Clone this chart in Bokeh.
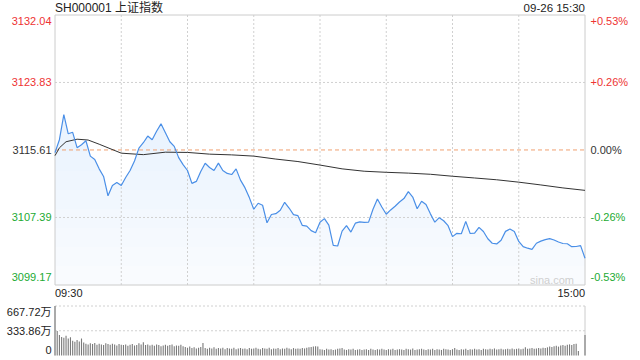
import numpy as np
from bokeh.plotting import figure
from bokeh.models import Range1d
from bokeh.core.properties import value
from bokeh.embed import file_html
from bokeh.resources import INLINE

# ---------------- data ----------------
title_text = "SH000001 上证指数"
stamp_text = "09-26 15:30"
prev_close = 3115.61
price_ticks = [3132.04, 3123.83, 3115.61, 3107.39, 3099.17]
price_tick_labels = ["3132.04", "3123.83", "3115.61", "3107.39", "3099.17"]
pct_tick_labels = ["+0.53%", "+0.26%", "0.00%", "-0.26%", "-0.53%"]
vol_ticks = [667.72, 333.86, 0]
vol_tick_labels = ["667.72万", "333.86万", "0"]
time_labels = ["09:30", "15:00"]
grid_minutes = [30, 60, 90, 120, 150, 180, 210]

# price every 2 minutes (minute index 0..240)
price_minutes = list(range(0, 241, 2))
price = [
    3115.28, 3116.86, 3119.90, 3117.58, 3117.76, 3115.89, 3116.25, 3116.73, 3114.86, 3114.44,
    3113.31, 3112.38, 3110.03, 3111.29, 3111.66, 3111.29, 3112.26, 3113.11, 3114.26, 3115.83,
    3116.49, 3117.30, 3116.86, 3117.88, 3118.79, 3117.70, 3116.61, 3116.05, 3114.68, 3113.83,
    3113.11, 3111.54, 3111.78, 3112.99, 3113.99, 3113.47, 3113.11, 3114.01, 3113.11, 3112.75,
    3112.62, 3113.31, 3111.94, 3111.02, 3109.81, 3108.39, 3109.12, 3108.88, 3106.74, 3107.75,
    3107.85, 3108.27, 3109.24, 3108.54, 3107.73, 3107.61, 3106.42, 3106.34, 3105.79, 3105.53,
    3106.82, 3107.25, 3106.46, 3104.00, 3103.92, 3105.73, 3106.40, 3105.61, 3106.70, 3106.86,
    3106.79, 3106.82, 3108.39, 3109.64, 3108.66, 3107.79, 3108.31, 3108.76, 3109.28, 3109.69,
    3110.53, 3109.88, 3108.45, 3109.36, 3108.96, 3107.83, 3106.82, 3107.37, 3106.99, 3106.39,
    3105.06, 3105.46, 3105.41, 3106.92, 3105.44, 3105.49, 3106.18, 3105.69, 3104.80, 3104.25,
    3104.17, 3104.62, 3105.70, 3105.98, 3105.69, 3104.48, 3103.84, 3103.65, 3103.51, 3104.25,
    3104.51, 3104.69, 3104.82, 3104.65, 3104.40, 3104.22, 3104.19, 3103.84, 3103.86, 3103.96,
    3102.43,
]

# average price line
avg_minutes = [0, 2, 5, 10, 15, 20, 30, 40, 50, 60, 70, 80, 90, 100, 110, 120,
               130, 140, 150, 160, 170, 180, 190, 200, 210, 220, 230, 240]
avg_price = [3114.92, 3115.87, 3116.61, 3116.92, 3116.82, 3116.31, 3115.22, 3115.04,
             3115.34, 3115.31, 3115.10, 3115.01, 3114.86, 3114.50, 3114.20, 3113.77,
             3113.31, 3113.02, 3112.89, 3112.79, 3112.65, 3112.41, 3112.20, 3111.98,
             3111.69, 3111.35, 3110.99, 3110.69]

# volume per minute (万)
vol_minutes = list(range(241))
volume = [
    667.72, 330, 275, 250, 240, 265, 230, 245, 200, 185,
    210, 190, 230, 175, 160, 150, 165, 155, 170, 145,
    160, 150, 140, 165, 155, 145, 160, 150, 135, 155,
    145, 140, 150, 130, 145, 155, 135, 140, 165, 150,
    180, 140, 150, 135, 145, 130, 150, 140, 125, 135,
    145, 130, 140, 150, 125, 135, 130, 145, 125, 115,
    105, 120, 100, 110, 95, 105, 115, 170, 100, 90,
    105, 95, 110, 90, 100, 95, 105, 85, 100, 95,
    90, 105, 85, 95, 100, 90, 95, 85, 100, 90,
    95, 105, 90, 85, 100, 95, 90, 105, 85, 95,
    90, 100, 85, 95, 90, 105, 95, 85, 100, 90,
    95, 90, 100, 95, 105, 110, 115, 120, 125, 120,
    85, 80, 75, 90, 80, 85, 75, 80, 90, 95,
    100, 80, 75, 85, 80, 90, 75, 80, 85, 75,
    80, 85, 75, 90, 80, 75, 85, 80, 90, 80,
    75, 85, 80, 90, 75, 80, 85, 80, 75, 90,
    85, 80, 95, 75, 80, 85, 90, 80, 75, 85,
    80, 90, 75, 85, 80, 75, 90, 85, 80, 75,
    85, 100, 80, 75, 85, 80, 90, 75, 85, 80,
    90, 80, 85, 75, 90, 85, 80, 90, 85, 95,
    80, 85, 90, 80, 85, 90, 85, 95, 85, 90,
    95, 85, 90, 110, 90, 95, 100, 90, 95, 100,
    95, 105, 100, 110, 120, 115, 125, 130, 120, 135,
    140, 130, 145, 150, 140, 155, 160, 60, 0, 0,
    275,
]

# ---------------- layout (figure pixels) ----------------
W, H = 632, 358
PLOT_L, PLOT_R = 54.5, 584.5
PRICE_T, PRICE_B = 14.5, 284.5
VOL_T, VOL_B = 305.5, 355.0
N_MIN = 240

PRICE_HI, PRICE_LO = price_ticks[0], price_ticks[-1]
VOL_HI = vol_ticks[0]

mpx = N_MIN / (PLOT_R - PLOT_L)
x_range = Range1d(0 - PLOT_L * mpx, N_MIN + (W - PLOT_R) * mpx)
ppx = (PRICE_HI - PRICE_LO) / (PRICE_B - PRICE_T)
y_range = Range1d(PRICE_LO - (H - PRICE_B) * ppx, PRICE_HI + PRICE_T * ppx)
vpx = VOL_HI / (VOL_B - VOL_T)
vol_range = Range1d(0 - (H - VOL_B) * vpx, VOL_HI + VOL_T * vpx)

FONT = value("Liberation Sans, Noto Sans CJK SC")
RED, GREEN, DARK = "#ee3333", "#22aa33", "#333333"
BLUE = "#4a8fe7"
BORDER = "#cccccc"
GRID = "#d0d0d0"

p = figure(width=W, height=H, output_backend="svg", toolbar_location=None,
           x_range=x_range, y_range=y_range, x_axis_location=None, y_axis_location=None,
           min_border=0, outline_line_color=None, background_fill_color="white",
           border_fill_color="white")
p.grid.visible = False
p.extra_y_ranges = {"vol": vol_range}

price_arr = np.array(price)

# gradient-like area fill under price line
p.varea(x=price_minutes, y1=[PRICE_LO] * len(price), y2=price, fill_color=BLUE, fill_alpha=0.03)
for lvl in np.linspace(PRICE_LO, 3120.0, 10)[1:]:
    p.varea(x=price_minutes, y1=[lvl] * len(price), y2=np.maximum(price_arr, lvl),
            fill_color=BLUE, fill_alpha=0.012)

# grid lines
p.segment(x0=grid_minutes, x1=grid_minutes, y0=[PRICE_LO] * len(grid_minutes),
          y1=[PRICE_HI] * len(grid_minutes), line_color=GRID, line_dash="2 2", line_width=1)
p.segment(x0=[0, 0], x1=[N_MIN, N_MIN], y0=[price_ticks[1], price_ticks[3]],
          y1=[price_ticks[1], price_ticks[3]], line_color=GRID, line_dash="2 2", line_width=1)
p.line(x=[0, N_MIN], y=[prev_close, prev_close], line_color="#f0a070", line_dash="4 3", line_width=1)

# price frame
p.segment(x0=[0, N_MIN, 0, 0], x1=[0, N_MIN, N_MIN, N_MIN],
          y0=[PRICE_LO, PRICE_LO, PRICE_HI, PRICE_LO], y1=[PRICE_HI, PRICE_HI, PRICE_HI, PRICE_LO],
          line_color=BORDER, line_width=1)

# lines
p.line(x=avg_minutes, y=avg_price, line_color="#333333", line_width=1)
p.line(x=price_minutes, y=price, line_color=BLUE, line_width=1.2)

# volume panel
p.segment(x0=[0, 0], x1=[N_MIN, N_MIN], y0=vol_ticks[:2], y1=vol_ticks[:2],
          line_color=GRID, line_dash="2 2", line_width=1, y_range_name="vol")
p.segment(x0=[0, N_MIN], x1=[0, N_MIN], y0=[0, 0], y1=[VOL_HI, VOL_HI],
          line_color=BORDER, line_width=1, y_range_name="vol")
p.vbar(x=vol_minutes, top=volume, bottom=0, width=0.5, fill_color="#7a7a7a",
       line_color=None, y_range_name="vol")

# texts
p.text(x=[0], y=[PRICE_HI], text=[title_text], text_font=FONT, text_font_size="12px",
       text_color="#222222", text_align="left", text_baseline="middle", y_offset=-7)
p.text(x=[N_MIN], y=[PRICE_HI], text=[stamp_text], text_font=FONT, text_font_size="11.5px",
       text_color="#222222", text_align="right", text_baseline="middle", y_offset=-7)

tick_colors = [RED, RED, DARK, GREEN, GREEN]
tick_offsets = [6, 0, 0, 0, -8]
p.text(x=[0] * 5, y=price_ticks, text=price_tick_labels, text_font=FONT, text_font_size="11px",
       text_color=tick_colors, text_align="right", text_baseline="middle",
       x_offset=-3.5, y_offset=tick_offsets)
p.text(x=[N_MIN] * 5, y=price_ticks, text=pct_tick_labels, text_font=FONT, text_font_size="11px",
       text_color=tick_colors, text_align="left", text_baseline="middle",
       x_offset=5.5, y_offset=tick_offsets)

p.text(x=[0, N_MIN], y=[PRICE_LO, PRICE_LO], text=time_labels, text_font=FONT,
       text_font_size="11px", text_color="#222222", text_align=["left", "right"],
       text_baseline="middle", y_offset=8)

p.text(x=[0] * 3, y=vol_ticks, text=vol_tick_labels, text_font=FONT, text_font_size="11px",
       text_color="#222222", text_align="right", text_baseline="middle",
       x_offset=-3.5, y_offset=[6, 0, -6], y_range_name="vol")

p.text(x=[N_MIN], y=[PRICE_LO], text=["sina.com"], text_font=FONT, text_font_size="11px",
       text_color="#cfcfcf", text_align="right", text_baseline="middle",
       x_offset=-11, y_offset=-5)

open("out.html", "w").write(file_html(p, INLINE))
